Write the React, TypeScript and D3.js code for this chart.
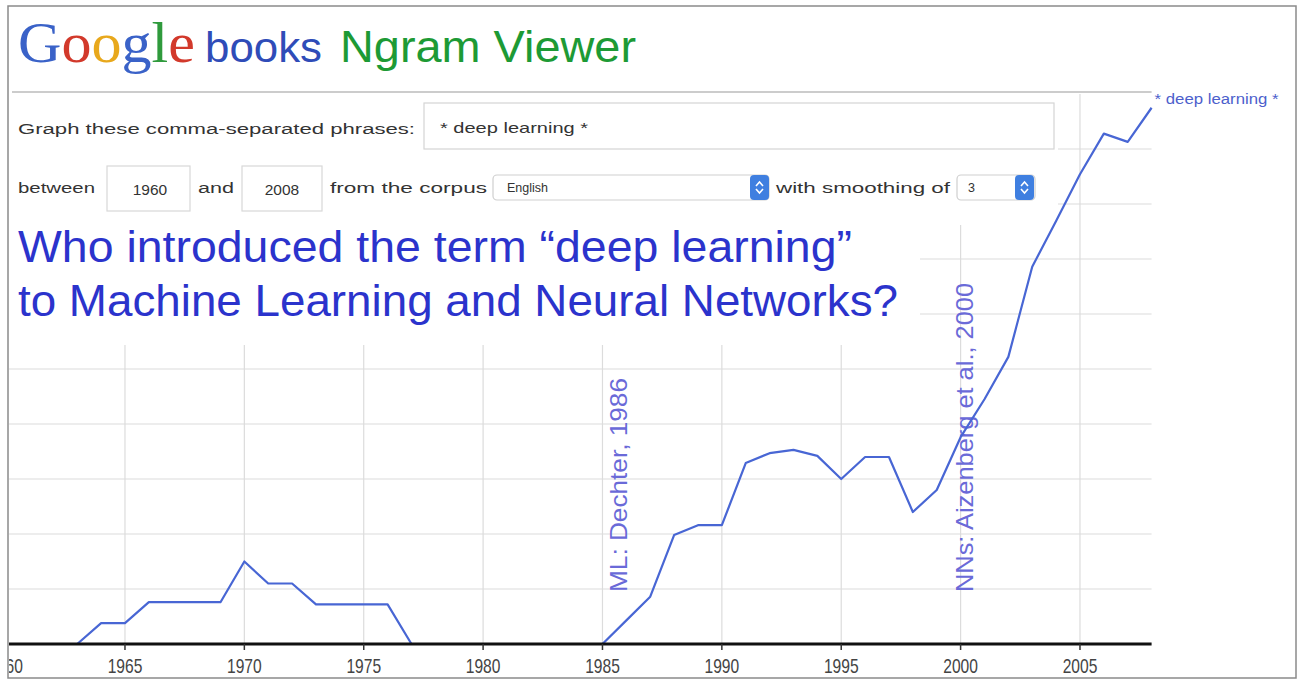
import React from 'react';
import * as d3 from 'd3';

// yearly values of "* deep learning *" (grid units)
const years = [
  1960, 1961, 1962, 1963, 1964, 1965, 1966, 1967, 1968, 1969,
  1970, 1971, 1972, 1973, 1974, 1975, 1976, 1977, 1978, 1979,
  1980, 1981, 1982, 1983, 1984, 1985, 1986, 1987, 1988, 1989,
  1990, 1991, 1992, 1993, 1994, 1995, 1996, 1997, 1998, 1999,
  2000, 2001, 2002, 2003, 2004, 2005, 2006, 2007, 2008,
];
const frequency = [
  0, 0, 0, 0, 0.38, 0.38, 0.76, 0.76, 0.76, 0.76,
  1.5, 1.1, 1.1, 0.72, 0.72, 0.72, 0.72, 0, 0, 0,
  0, 0, 0, 0, 0, 0, 0.43, 0.86, 1.98, 2.16,
  2.16, 3.29, 3.47, 3.53, 3.42, 3.0, 3.4, 3.4, 2.4, 2.8,
  3.76, 4.45, 5.22, 6.86, 7.69, 8.54, 9.28, 9.13, 9.75,
];
const tickYears = [1960, 1965, 1970, 1975, 1980, 1985, 1990, 1995, 2000, 2005];
const gridLevels = [1, 2, 3, 4, 5, 6, 7, 8, 9];
const seriesLabel = '* deep learning *';
const annotations = [
  { year: 1986, text: 'ML: Dechter, 1986', len: 214 },
  { year: 2000.5, text: 'NNs: Aizenberg et al., 2000', len: 309 },
];
const googleLetters = [
  { ch: 'G', color: '#3a62c8' },
  { ch: 'o', color: '#d2392b' },
  { ch: 'o', color: '#e8a81c' },
  { ch: 'g', color: '#3a62c8' },
  { ch: 'l', color: '#2f9a3c' },
  { ch: 'e', color: '#d2392b' },
];

const W = 1300;
const H = 682;
const sans = '"Liberation Sans", Arial, Helvetica, sans-serif';

const x = d3.scaleLinear().domain([1960, 2008]).range([5.6, 1151.6]);
const y = d3.scaleLinear().domain([0, 10]).range([644, 94]);

// where the form / title covers the grid, lines start further right or lower
const gridStart = (k: number) => (k <= 5 ? 9 : k <= 7 ? 920 : 1058);
const vGridTop = (yr: number) => (yr === 2005 ? 94 : yr === 2000 ? 225 : 345);

const Stepper = ({ x0, y0 }: { x0: number; y0: number }) => (
  <g>
    <rect x={x0} y={y0} width={19} height={25} rx={4} fill="#3f7fe0" />
    <path d={`M${x0 + 6},${y0 + 11} L${x0 + 9.5},${y0 + 7} L${x0 + 13},${y0 + 11}`} fill="none" stroke="#fff" strokeWidth={1.6} />
    <path d={`M${x0 + 6},${y0 + 14} L${x0 + 9.5},${y0 + 18} L${x0 + 13},${y0 + 14}`} fill="none" stroke="#fff" strokeWidth={1.6} />
  </g>
);

export default function App() {
  const line = d3
    .line<number>()
    .x((_, i) => x(years[i]))
    .y((d) => y(d));

  const last = frequency.length - 1;

  return (
    <div style={{ position: 'absolute', left: 0, top: 0 }}>
      <svg width={W} height={H} style={{ display: 'block', background: '#fff' }}>
        <defs>
          <clipPath id="frame">
            <rect x={9} y={7} width={1287} height={670} />
          </clipPath>
        </defs>

        {/* header */}
        <text x={18} y={62} fontFamily='"Liberation Serif", "DejaVu Serif", serif' fontSize={58} textLength={177} lengthAdjust="spacingAndGlyphs">
          {googleLetters.map((l, i) => (
            <tspan key={i} fill={l.color}>{l.ch}</tspan>
          ))}
        </text>
        <text x={205} y={62} fontFamily={sans} fontSize={42} fill="#2f4cb8" textLength={117} lengthAdjust="spacingAndGlyphs">books</text>
        <text x={340} y={62} fontFamily={sans} fontSize={45} fill="#1d9a35" textLength={296} lengthAdjust="spacingAndGlyphs">Ngram Viewer</text>

        {/* grid */}
        <g clipPath="url(#frame)">
          {gridLevels.map((k) => (
            <line key={k} x1={gridStart(k)} x2={x(2008)} y1={y(k)} y2={y(k)} stroke="#dcdcdc" strokeWidth={1.2} />
          ))}
          {tickYears.filter((t) => t > 1960).map((t) => (
            <line key={t} x1={x(t)} x2={x(t)} y1={vGridTop(t)} y2={y(0)} stroke="#dcdcdc" strokeWidth={1.2} />
          ))}
          <line x1={12} x2={x(2008)} y1={92} y2={92} stroke="#bbb" strokeWidth={1.5} />

          {/* form */}
          <text x={18} y={134} fontFamily={sans} fontSize={15.5} fill="#333" textLength={397} lengthAdjust="spacingAndGlyphs">Graph these comma-separated phrases:</text>
          <rect x={424} y={103} width={630} height={46} fill="#fff" stroke="#d4d4d4" strokeWidth={1.2} />
          <text x={440} y={133} fontFamily={sans} fontSize={15} fill="#333" textLength={148} lengthAdjust="spacingAndGlyphs">* deep learning *</text>

          <text x={18} y={193} fontFamily={sans} fontSize={15.5} fill="#333" textLength={77} lengthAdjust="spacingAndGlyphs">between</text>
          <rect x={107} y={166} width={83} height={45} fill="#fff" stroke="#d8d8d8" strokeWidth={1.2} />
          <text x={150} y={195} textAnchor="middle" fontFamily={sans} fontSize={15.5} fill="#333">1960</text>
          <text x={198} y={193} fontFamily={sans} fontSize={15.5} fill="#333" textLength={36} lengthAdjust="spacingAndGlyphs">and</text>
          <rect x={242} y={166} width={80} height={45} fill="#fff" stroke="#d8d8d8" strokeWidth={1.2} />
          <text x={282} y={195} textAnchor="middle" fontFamily={sans} fontSize={15.5} fill="#333">2008</text>
          <text x={330} y={193} fontFamily={sans} fontSize={15.5} fill="#333" textLength={157} lengthAdjust="spacingAndGlyphs">from the corpus</text>
          <rect x={493} y={175} width={276} height={25} rx={4} fill="#fff" stroke="#cfcfcf" strokeWidth={1.2} />
          <text x={507} y={192} fontFamily={sans} fontSize={12.5} fill="#333">English</text>
          <Stepper x0={750} y0={175} />
          <text x={776} y={193} fontFamily={sans} fontSize={15.5} fill="#333" textLength={174} lengthAdjust="spacingAndGlyphs">with smoothing of</text>
          <rect x={957} y={175} width={78} height={25} rx={4} fill="#fff" stroke="#cfcfcf" strokeWidth={1.2} />
          <text x={968} y={192} fontFamily={sans} fontSize={12.5} fill="#333">3</text>
          <Stepper x0={1015} y0={175} />

          {/* question */}
          <text x={18} y={262} fontFamily={sans} fontSize={44} fill="#2b33cc" textLength={834} lengthAdjust="spacingAndGlyphs">Who introduced the term “deep learning”</text>
          <text x={18} y={316} fontFamily={sans} fontSize={44} fill="#2b33cc" textLength={880} lengthAdjust="spacingAndGlyphs">to Machine Learning and Neural Networks?</text>

          {/* annotations */}
          {annotations.map((a) => (
            <text
              key={a.text}
              transform={`translate(${x(a.year) + 0.5},592) rotate(-90)`}
              fontFamily={sans}
              fontSize={24}
              fill="#6a6ad8"
              textLength={a.len}
              lengthAdjust="spacingAndGlyphs"
            >
              {a.text}
            </text>
          ))}

          {/* series */}
          <path d={line(frequency) ?? ''} fill="none" stroke="#4866d4" strokeWidth={2.2} strokeLinejoin="round" />
          <text x={x(years[last]) + 3} y={y(frequency[last]) - 4} fontFamily={sans} fontSize={14} fill="#4d5fcc" textLength={124} lengthAdjust="spacingAndGlyphs">
            {seriesLabel}
          </text>

          {/* x axis */}
          <line x1={x(1960)} x2={x(2008)} y1={y(0)} y2={y(0)} stroke="#111" strokeWidth={3.2} />
          {tickYears.map((t) => (
            <g key={t} transform={`translate(${x(t)},0)`}>
              <line y1={y(0)} y2={y(0) + 6} stroke="#333" strokeWidth={1.5} />
              <text
                y={673}
                transform="scale(0.78,1)"
                textAnchor="middle"
                fontFamily={sans}
                fontSize={20}
                fill="#444"
              >
                {t}
              </text>
            </g>
          ))}
        </g>

        {/* outer frame */}
        <rect x={8} y={6} width={1288} height={672} fill="none" stroke="#8a8a8a" strokeWidth={1.5} />
      </svg>
    </div>
  );
}
